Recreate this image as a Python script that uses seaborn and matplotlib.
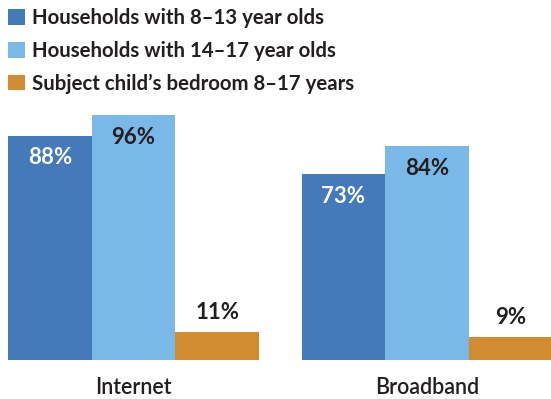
import matplotlib
matplotlib.use("Agg")
import matplotlib.pyplot as plt
import seaborn as sns
import pandas as pd

categories = ["Internet", "Broadband"]
series = [
    "Households with 8\u201313 year olds",
    "Households with 14\u201317 year olds",
    "Subject child\u2019s bedroom 8\u201317 years",
]
values_8_13 = [88, 73]
values_14_17 = [96, 84]
values_bedroom = [11, 9]

colors = ["#4479ba", "#7ab8e7", "#d18c31"]
label_colors = ["white", "#231f20", "#231f20"]


def main():
    rows = []
    for name, vals in zip(series, [values_8_13, values_14_17, values_bedroom]):
        for cat, v in zip(categories, vals):
            rows.append({"category": cat, "series": name, "value": v})
    df = pd.DataFrame(rows)

    sns.set_theme(style="white")
    plt.rcParams["font.family"] = ["Lato", "DejaVu Sans"]

    fig = plt.figure(figsize=(5.51, 3.99), dpi=100)
    ax = fig.add_axes([0, 39 / 399, 1, 255 / 399])

    sns.barplot(data=df, x="category", y="value", hue="series",
                palette=colors, width=0.855, gap=0, saturation=1,
                linewidth=0, ax=ax)

    ax.set_ylim(0, 100)
    ax.set_xlim(-0.455, 1.4225)
    ax.set_xlabel("")
    ax.set_ylabel("")
    ax.set_yticks([])
    sns.despine(ax=ax, left=True, bottom=True)
    ax.tick_params(axis="x", length=0, pad=12, labelsize=15.5, labelcolor="#231f20")
    for t in ax.get_xticklabels():
        t.set_fontweight("semibold")

    # value labels: first two inside the top, last one above the bar
    for i, cont in enumerate(ax.containers):
        for bar in cont:
            x = bar.get_x() + bar.get_width() / 2
            h = bar.get_height()
            dy = -16 if i < 2 else 14
            ax.annotate(f"{h:.0f}%", (x, h), xytext=(0, dy),
                        textcoords="offset points", ha="center", va="center",
                        fontsize=16, fontweight="bold", color=label_colors[i])

    handles, labels = ax.get_legend_handles_labels()
    ax.get_legend().remove()
    fig.legend(handles, labels, loc="upper left", bbox_to_anchor=(0.0, 1.0),
               frameon=False, prop={"weight": "bold", "size": 14.7},
               handlelength=0.8, handleheight=0.8, handletextpad=0.35,
               labelspacing=0.62, borderaxespad=0.2, borderpad=0.2,
               labelcolor="#231f20")

    fig.savefig("out.png", dpi=100)
    plt.close(fig)


if __name__ == "__main__":
    main()
